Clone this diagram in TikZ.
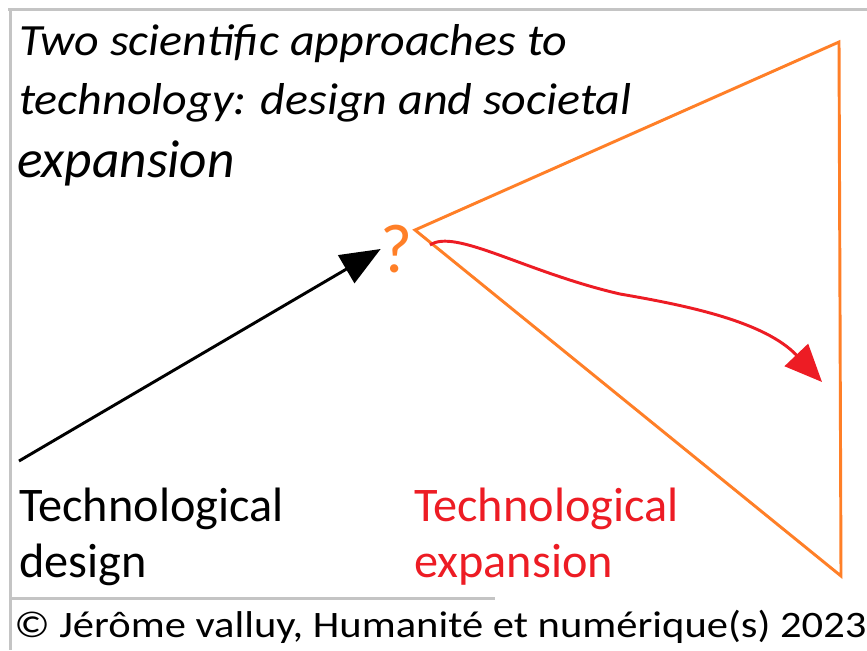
\documentclass[tikz,border=0pt]{standalone}
\usepackage{fontspec}
\setmainfont{Carlito}
\usetikzlibrary{arrows.meta}
\definecolor{orangeline}{RGB}{255,127,39}
\definecolor{redexp}{RGB}{237,28,36}
\definecolor{framegray}{RGB}{196,196,196}

\begin{document}
\begin{tikzpicture}[x=0.75pt,y=-0.75pt]
\tikzstyle {txt}=[inner sep=0pt, anchor=base west]
\tikzstyle {ttl}=[txt, font=\fontsize{33.5}{38}\selectfont\itshape]
\tikzstyle {lbl}=[txt, font=\fontsize{36.2}{40}\selectfont]
\tikzstyle {frm}=[draw=framegray, line width=2.25pt]
\tikzstyle {cone}=[draw=orangeline, line width=2.2pt, line join=miter]
\useasboundingbox (0,0) rectangle (867,650);
\fill[white] (0,0) rectangle (867,650);
% frame
\draw[frm] (8,9) -- (867,9);
\draw[frm] (10,9) -- (10,650);
\draw[frm] (10,598) -- (495,598);
% title
\node (title1) [ttl] at (19,55) {\scalebox{1.075}[1]{Two scientific approaches to}};
\node (title2) [ttl] at (19,114) {\scalebox{1.075}[1]{technology: design and societal}};
\node (title3) [ttl, font=\fontsize{40}{44}\selectfont\itshape] at (17,177) {expansion};
% cone
\coordinate (apex) at (415,230);
\coordinate (top) at (839,42);
\coordinate (bot) at (841,576);
\draw[cone] (top) -- (apex) -- (bot) -- cycle;
\node (q) [inner sep=0pt, text=orangeline, font=\fontsize{52}{56}\selectfont] at (397,249) {?};
% design arrow
\coordinate (dstart) at (19,461);
\draw[line width=2.2pt, -{Triangle[length=30pt, width=24pt]}] (dstart) -- (q.west);
% expansion arrow
\coordinate (estart) at (430,245);
\coordinate (eend) at (822,382);
\draw[redexp, line width=2.2pt, -{Triangle[length=28pt, width=24pt]}]
  (estart) .. controls (455,228) and (525,272) .. (620,294)
  .. controls (690,306) and (765,322) .. (eend);
% labels
\node (des1) [lbl] at (19,521) {Technological};
\node (des2) [lbl] at (19,577) {design};
\node (exp1) [lbl, text=redexp] at (414,521) {Technological};
\node (exp2) [lbl, text=redexp] at (414,577) {expansion};
\node (copy) [txt, font=\fontsize{28}{32}\selectfont] at (14,637) {\scalebox{1.14}[1]{© Jérôme valluy, Humanité et numérique(s) 2023}};
\end{tikzpicture}
\end{document}
